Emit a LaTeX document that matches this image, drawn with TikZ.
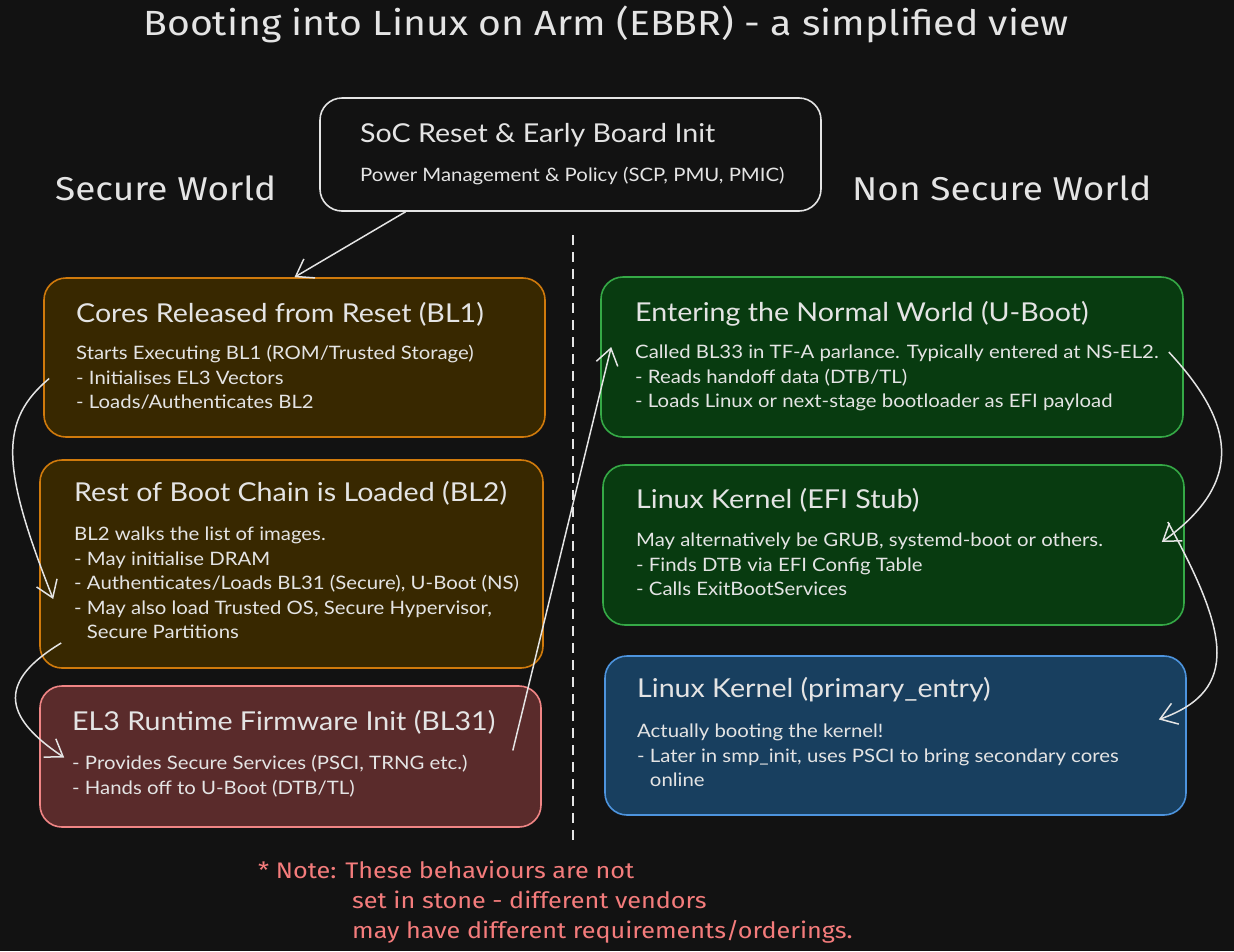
\documentclass[tikz,border=0pt]{standalone}
\usepackage{fontspec}
\setmainfont{Lato}[FakeStretch=1.1]
\newfontfamily\handfont{Fira Sans}[FakeStretch=1.12]
\usetikzlibrary{arrows.meta}
\definecolor{bg}{HTML}{121212}
\definecolor{fg}{HTML}{E4E4E4}
\definecolor{orline}{HTML}{D07A0C}
\definecolor{orfill}{HTML}{382800}
\definecolor{rdline}{HTML}{F08585}
\definecolor{rdfill}{HTML}{5A2B2B}
\definecolor{grline}{HTML}{35A946}
\definecolor{grfill}{HTML}{083B10}
\definecolor{blline}{HTML}{4D94DE}
\definecolor{blfill}{HTML}{183F5F}
\definecolor{notec}{HTML}{F47C7C}
\tikzset{
  box/.style={rectangle, rounded corners=22pt, line width=1.6pt, inner sep=0pt},
  ttl/.style={anchor=west, inner sep=0pt, text=fg, font=\fontsize{26}{30}\selectfont},
  bodytext/.style={anchor=north west, inner sep=0pt, text=fg, align=left, font=\fontsize{18.5}{24.5}\selectfont},
  hand/.style={inner sep=0pt, text=fg, font=\handfont\fontsize{33}{36}\selectfont},
  flow/.style={draw=fg, line width=1.5pt, -{Straight Barb[length=16pt,width=22pt,line width=1.5pt]}}
}
\begin{document}
\begin{tikzpicture}[x=1pt,y=-1pt]
\fill[bg] (0,0) rectangle (1234,951);
\useasboundingbox (0,0) rectangle (1234,951);

% title and world labels
\node[hand, font=\handfont\fontsize{35}{38}\selectfont] (title) at (606,24) {Booting into Linux on Arm (EBBR) - a simplified view};
\node[hand, anchor=west] (sw) at (55,188) {Secure World};
\node[hand, anchor=west] (nsw) at (852,188) {Non Secure World};

% divider
\coordinate (dtop) at (573,235);
\coordinate (dbot) at (573,840);
\draw[fg, line width=1.5pt, dash pattern=on 10pt off 7pt] (dtop) -- (dbot);

% boxes
\node[box, draw=fg, fill=bg, minimum width=501pt, minimum height=113pt] (soc) at (570.5,154.5) {};
\node[box, draw=orline, fill=orfill, minimum width=501pt, minimum height=159pt] (bl1) at (294.5,357.5) {};
\node[box, draw=orline, fill=orfill, minimum width=503pt, minimum height=208pt] (bl2) at (291.5,564) {};
\node[box, draw=rdline, fill=rdfill, minimum width=501pt, minimum height=141pt] (bl31) at (290.5,756.5) {};
\node[box, draw=grline, fill=grfill, minimum width=582pt, minimum height=160pt] (ub) at (892,357) {};
\node[box, draw=grline, fill=grfill, minimum width=581pt, minimum height=160pt] (efi) at (893.5,545) {};
\node[box, draw=blline, fill=blfill, minimum width=581pt, minimum height=159pt] (pe) at (895.5,735.5) {};

% texts
\node[ttl] (soct) at (360,135) {SoC Reset \& Early Board Init};
\node[anchor=west, inner sep=0pt, text=fg, font=\fontsize{18.5}{22}\selectfont] (socb) at (360,176) {Power Management \& Policy (SCP, PMU, PMIC)};

\node[ttl] (bl1t) at (76,314) {Cores Released from Reset (BL1)};
\node[bodytext] (bl1b) at (76,345) {Starts Executing BL1 (ROM/Trusted Storage)\\- Initialises EL3 Vectors\\- Loads/Authenticates BL2};

\node[ttl] (bl2t) at (74,493) {Rest of Boot Chain is Loaded (BL2)};
\node[bodytext] (bl2b) at (74,527) {BL2 walks the list of images.\\- May initialise DRAM\\- Authenticates/Loads BL31 (Secure), U-Boot (NS)\\- May also load Trusted OS, Secure Hypervisor,\\\hphantom{- }Secure Partitions};

\node[ttl] (bl31t) at (72,722) {EL3 Runtime Firmware Init (BL31)};
\node[bodytext] (bl31b) at (72,755) {- Provides Secure Services (PSCI, TRNG etc.)\\- Hands off to U-Boot (DTB/TL)};

\node[ttl] (ubt) at (635,314) {Entering the Normal World (U-Boot)};
\node[bodytext] (ubb) at (635,345) {Called BL33 in TF-A parlance. Typically entered at NS-EL2.\\- Reads handoff data (DTB/TL)\\- Loads Linux or next-stage bootloader as EFI payload};

\node[ttl] (efit) at (636,500) {Linux Kernel (EFI Stub)};
\node[bodytext] (efib) at (636,533) {May alternatively be GRUB, systemd-boot or others.\\- Finds DTB via EFI Config Table\\- Calls ExitBootServices};

\node[ttl] (pet) at (637,690) {Linux Kernel (primary\_entry)};
\node[bodytext] (peb) at (637,724) {Actually booting the kernel!\\- Later in smp\_init, uses PSCI to bring secondary cores\\\hphantom{- }online};

% note
\node[anchor=north west, inner sep=0pt, text=notec, align=left, font=\handfont\fontsize{22.5}{30}\selectfont] (note) at (258,861) {* Note: These behaviours are not\\\hspace*{94pt}set in stone - different vendors\\\hspace*{94pt}may have different requirements/orderings.};

% connectors
\coordinate (a1s) at ([xshift=-165pt]soc.south);
\coordinate (a1e) at ([xshift=0pt]bl1.north);
\draw[flow] (a1s) -- (a1e);

\coordinate (a2s) at ([xshift=6pt,yshift=-21pt]bl1.west);
\coordinate (a2e) at ([xshift=14pt,yshift=-35pt]bl2.west);
\draw[flow] (a2s) .. controls (0,420) and (0,465) .. (a2e);

\coordinate (a3s) at ([xshift=22pt,yshift=-79pt]bl2.west);
\coordinate (a3e) at ([xshift=25pt,yshift=-1pt]bl31.west);
\draw[flow] (a3s) .. controls (0,680) and (0,715) .. (a3e);

\coordinate (a4s) at ([xshift=-29pt,yshift=6pt]bl31.east);
\coordinate (a4e) at ([xshift=11pt,yshift=10pt]ub.west);
\draw[flow] (a4s) -- (a4e);

\coordinate (a5s) at ([xshift=-15pt,yshift=5pt]ub.east);
\coordinate (a5e) at ([xshift=-23pt,yshift=3pt]efi.east);
\draw[flow] (a5s) .. controls (1232,420) and (1248,480) .. (a5e);

\coordinate (a6s) at ([xshift=-17pt,yshift=23pt]efi.east);
\coordinate (a6e) at ([xshift=-28pt,yshift=16pt]pe.east);
\draw[flow] (a6s) .. controls (1227,630) and (1242,690) .. (a6e);
\end{tikzpicture}
\end{document}
